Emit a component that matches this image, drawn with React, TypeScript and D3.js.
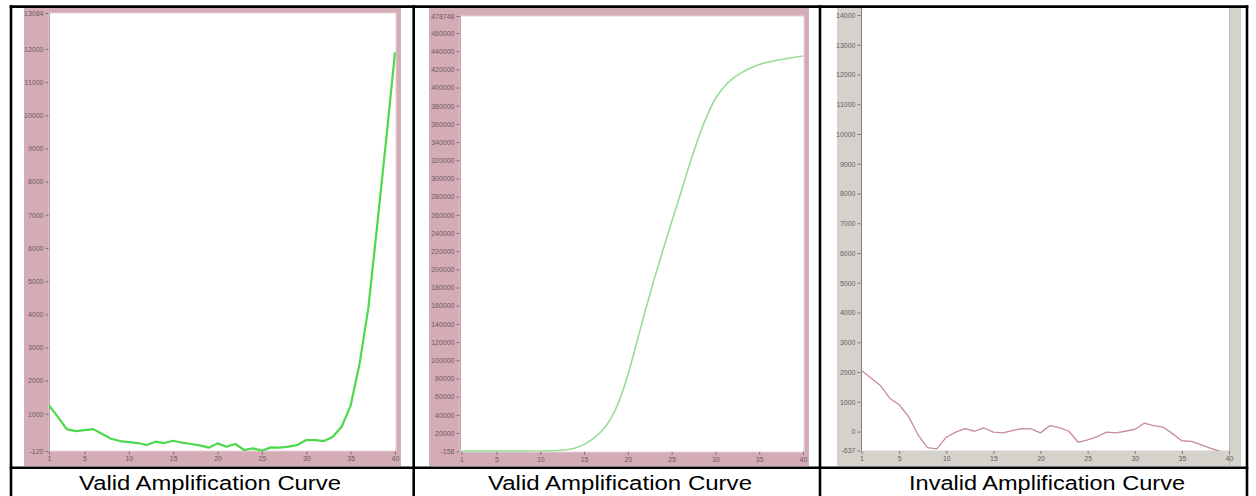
import React, { useEffect, useRef } from "react";
import * as d3 from "d3";

// cycle numbers on the x axis
const cycles = [
  1, 2, 3, 4, 5, 6, 7, 8, 9, 10, 11, 12, 13, 14, 15, 16, 17, 18, 19, 20,
  21, 22, 23, 24, 25, 26, 27, 28, 29, 30, 31, 32, 33, 34, 35, 36, 37, 38, 39, 40,
];
const xTickValues = [1, 5, 10, 15, 20, 25, 30, 35, 40];

// panel 1: late rise
const validLateCounts = [
  1250, 910, 540, 480, 510, 540, 390, 250, 180, 150, 120, 60, 160, 120, 190, 130,
  90, 50, -20, 110, 10, 90, -90, -40, -110, -10, -20, 10, 60, 210, 210, 180, 310,
  620, 1250, 2500, 4200, 6700, 9250, 11900,
];
const validLateTicks = [
  -120, 1000, 2000, 3000, 4000, 5000, 6000, 7000, 8000, 9000, 10000, 11000, 12000, 13084,
];

// panel 2: sigmoid
const validSigmoidCounts = [
  0, 0, 0, 0, 0, 0, 0, 50, 100, 200, 350, 700, 1500, 3500, 7500, 13500, 22000,
  35000, 55000, 84000, 119000, 155000, 189000, 221000, 252000, 283000, 314000,
  343000, 368000, 388000, 401000, 410000, 416500, 421500, 425500, 428000, 430000,
  431800, 433300, 434800,
];
const validSigmoidTicks = [
  -158, 20000, 40000, 60000, 80000, 100000, 120000, 140000, 160000, 180000, 200000,
  220000, 240000, 260000, 280000, 300000, 320000, 340000, 360000, 380000, 400000,
  420000, 440000, 460000, 478748,
];

// panel 3: noise, no amplification (cycles 1..39)
const invalidCounts = [
  2050, 1800, 1550, 1120, 900, 500, -110, -540, -580, -190, -20, 100, 10, 120, -20,
  -45, 35, 100, 90, -45, 200, 130, 10, -360, -280, -170, -20, -45, 10, 70, 280, 200,
  150, -70, -310, -330, -440, -560, -660,
];
const invalidTicks = [
  -637, 0, 1000, 2000, 3000, 4000, 5000, 6000, 7000, 8000, 9000, 10000, 11000, 12000,
  13000, 14000,
];

const captions = [
  "Valid Amplification Curve",
  "Valid Amplification Curve",
  "Invalid Amplification Curve",
];

const W = 1256;
const H = 496;

const panels = [
  {
    values: validLateCounts,
    ticks: validLateTicks,
    frame: { x: 24, y: 8, w: 377, h: 458, fill: "#d4acb6" },
    plot: { x: 49, y: 13, w: 347, h: 438 },
    xRange: [49, 395],
    yRange: [451, 13],
    stroke: "#4cd94c",
    strokeWidth: 2.2,
    curve: d3.curveLinear,
    tickColor: "#6e5a62",
    axisColor: "#c49aa6",
    caption: { cx: 210, w: 262 },
  },
  {
    values: validSigmoidCounts,
    ticks: validSigmoidTicks,
    frame: { x: 429, y: 8, w: 380, h: 458, fill: "#d4acb6" },
    plot: { x: 460, y: 16, w: 344, h: 436 },
    xRange: [461.5, 803],
    yRange: [451.3, 16],
    stroke: "#96de96",
    strokeWidth: 1.6,
    curve: d3.curveMonotoneX,
    tickColor: "#6e5a62",
    axisColor: "#c49aa6",
    caption: { cx: 620, w: 264 },
  },
  {
    values: invalidCounts,
    ticks: invalidTicks,
    frame: { x: 837, y: 8, w: 404, h: 458, fill: "#d5d2cc" },
    plot: { x: 861, y: 8, w: 368, h: 442.5 },
    xRange: [861.5, 1229],
    yRange: [450.5, 15],
    stroke: "#c98a9a",
    strokeWidth: 1.3,
    curve: d3.curveLinear,
    tickColor: "#66625c",
    axisColor: "#85817a",
    caption: { cx: 1047, w: 276 },
  },
];

const App = () => {
  const svgRef = useRef<SVGSVGElement>(null);

  useEffect(() => {
    const svg = d3.select(svgRef.current);
    svg.selectAll("*").remove();

    panels.forEach((p, i) => {
      const g = svg.append("g");

      g.append("rect")
        .attr("x", p.frame.x)
        .attr("y", p.frame.y)
        .attr("width", p.frame.w)
        .attr("height", p.frame.h)
        .attr("fill", p.frame.fill);

      g.append("rect")
        .attr("x", p.plot.x)
        .attr("y", p.plot.y)
        .attr("width", p.plot.w)
        .attr("height", p.plot.h)
        .attr("fill", "#ffffff")
        .attr("stroke", i === 2 ? "none" : "#e6d2d8")
        .attr("stroke-width", 1);

      if (i === 2) {
        // grey strip down the right side
        g.append("line")
          .attr("x1", 1229.5)
          .attr("x2", 1229.5)
          .attr("y1", 8)
          .attr("y2", 466)
          .attr("stroke", "#bdb9b2");
      }

      const x = d3.scaleLinear().domain([1, 40]).range(p.xRange);
      const y = d3
        .scaleLinear()
        .domain([p.ticks[0], p.ticks[p.ticks.length - 1]])
        .range(p.yRange);

      const clipId = `clip-${i}`;
      svg
        .append("clipPath")
        .attr("id", clipId)
        .append("rect")
        .attr("x", p.plot.x)
        .attr("y", p.plot.y)
        .attr("width", p.plot.w)
        .attr("height", p.yRange[0] - p.plot.y + 0.5);

      // left axis line
      g.append("line")
        .attr("x1", p.plot.x + 0.5)
        .attr("x2", p.plot.x + 0.5)
        .attr("y1", p.plot.y)
        .attr("y2", p.yRange[0])
        .attr("stroke", p.axisColor);

      const line = d3
        .line<number>()
        .x((_, k) => x(cycles[k]))
        .y((d) => y(d))
        .curve(p.curve);

      g.append("path")
        .datum(p.values)
        .attr("clip-path", `url(#${clipId})`)
        .attr("d", line)
        .attr("fill", "none")
        .attr("stroke", p.stroke)
        .attr("stroke-width", p.strokeWidth)
        .attr("stroke-linejoin", "round");

      const yAxis = g
        .append("g")
        .attr("transform", `translate(${p.plot.x - 0.5},0)`)
        .call(
          d3
            .axisLeft(y)
            .tickValues(p.ticks)
            .tickSize(3)
            .tickPadding(2)
            .tickFormat((d) => String(d)),
        );
      yAxis.select(".domain").remove();

      const xAxis = g
        .append("g")
        .attr("transform", `translate(0,${p.yRange[0] + 0.5})`)
        .call(
          d3
            .axisBottom(x)
            .tickValues(xTickValues)
            .tickSize(3)
            .tickPadding(2)
            .tickFormat((d) => String(d)),
        );
      xAxis.select(".domain").remove();

      [yAxis, xAxis].forEach((a) => {
        a.selectAll("line").attr("stroke", p.tickColor).attr("stroke-width", 0.8);
        a.selectAll("text")
          .attr("fill", p.tickColor)
          .attr("font-size", 7)
          .attr("font-family", "Liberation Sans, Arial, sans-serif");
      });

      svg
        .append("text")
        .attr("x", p.caption.cx - p.caption.w / 2)
        .attr("y", 490)
        .attr("textLength", p.caption.w)
        .attr("lengthAdjust", "spacingAndGlyphs")
        .attr("font-family", "Liberation Sans, Arial, sans-serif")
        .attr("font-size", 19.5)
        .attr("fill", "#000000")
        .text(captions[i]);
    });

    // table borders
    const border = svg.append("g").attr("stroke", "#000000").attr("stroke-width", 2.6);
    border.append("line").attr("x1", 9.7).attr("x2", 1248.3).attr("y1", 6.6).attr("y2", 6.6);
    border.append("line").attr("x1", 9.7).attr("x2", 1248.3).attr("y1", 467.7).attr("y2", 467.7);
    [11, 413.7, 820, 1247].forEach((bx) => {
      border.append("line").attr("x1", bx).attr("x2", bx).attr("y1", 5.3).attr("y2", H);
    });
  }, []);

  return (
    <svg
      ref={svgRef}
      width={W}
      height={H}
      style={{ position: "absolute", left: 0, top: 0, background: "#ffffff" }}
    ></svg>
  );
};

export default App;
